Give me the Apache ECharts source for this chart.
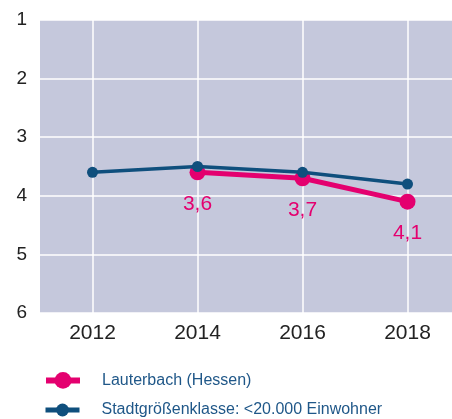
<!DOCTYPE html>
<html>
<head>
<meta charset="utf-8">
<script src="https://cdn.jsdelivr.net/npm/echarts@6/dist/echarts.min.js"></script>
<style>
  html, body { margin: 0; padding: 0; background: #fff; }
  #chart { width: 452px; height: 419px; }
</style>
</head>
<body>
<div id="chart"></div>
<script>
// Daten
const years = [2012, 2014, 2016, 2018]
const lauterbach = [null, 3.6, 3.7, 4.1]
const stadtklasse = [3.6, 3.5, 3.6, 3.8]
const seriesNames = ['Lauterbach (Hessen)', 'Stadtgrößenklasse: <20.000 Einwohner']

const pink = '#e4006f'
const blue = '#0f4f7d'

const chart = echarts.init(document.getElementById('chart'))

// eine Legende je Zeile, damit nichts umbricht
function legendRow(name, top, iconH, lineW) {
  return {
    left: 38,
    top: top,
    itemWidth: 34,
    itemHeight: iconH,
    textStyle: { color: '#1f5788', fontSize: 16, padding: [0, 0, 0, 17] },
    data: [{ name: name, lineStyle: { width: lineW } }]
  }
}

const option = {
  animation: false,
  textStyle: { fontFamily: 'Liberation Sans, Arial, sans-serif' },
  grid: {
    left: 40,
    right: -8,
    top: 20,
    bottom: 106,
    outerBoundsMode: 'none',
    containLabel: false,
    show: true,
    backgroundColor: '#c5c8dc',
    borderWidth: 0
  },
  xAxis: {
    type: 'value',
    min: 2011,
    max: 2019,
    interval: 1,
    axisLine: { show: false },
    axisTick: { show: false },
    axisLabel: {
      color: '#222',
      fontSize: 21,
      margin: 10,
      formatter: v => (years.includes(v) ? String(v) : '')
    },
    splitLine: {
      show: true,
      lineStyle: { color: ['rgba(0,0,0,0)', '#ffffff'], width: 1.5 }
    }
  },
  yAxis: {
    type: 'value',
    inverse: true,
    min: 1,
    max: 6,
    interval: 1,
    axisLine: { show: false },
    axisTick: { show: false },
    axisLabel: { color: '#222', fontSize: 19, margin: 13 },
    splitLine: { show: true, lineStyle: { color: '#ffffff', width: 1.5 } }
  },
  legend: [
    legendRow(seriesNames[0], 367, 21, 6),
    legendRow(seriesNames[1], 397, 16, 5)
  ],
  series: [
    {
      name: seriesNames[0],
      type: 'line',
      data: years.map((y, i) => [y, lauterbach[i]]),
      symbol: 'circle',
      symbolSize: 16,
      lineStyle: { color: pink, width: 5 },
      itemStyle: { color: pink },
      label: {
        show: true,
        position: 'bottom',
        distance: 13,
        color: pink,
        fontSize: 21,
        formatter: p => String(p.value[1]).replace('.', ',')
      },
      z: 2
    },
    {
      name: seriesNames[1],
      type: 'line',
      data: years.map((y, i) => [y, stadtklasse[i]]),
      symbol: 'circle',
      symbolSize: 11,
      lineStyle: { color: blue, width: 3.5 },
      itemStyle: { color: blue },
      z: 3
    }
  ]
}

chart.setOption(option)
</script>
</body>
</html>
